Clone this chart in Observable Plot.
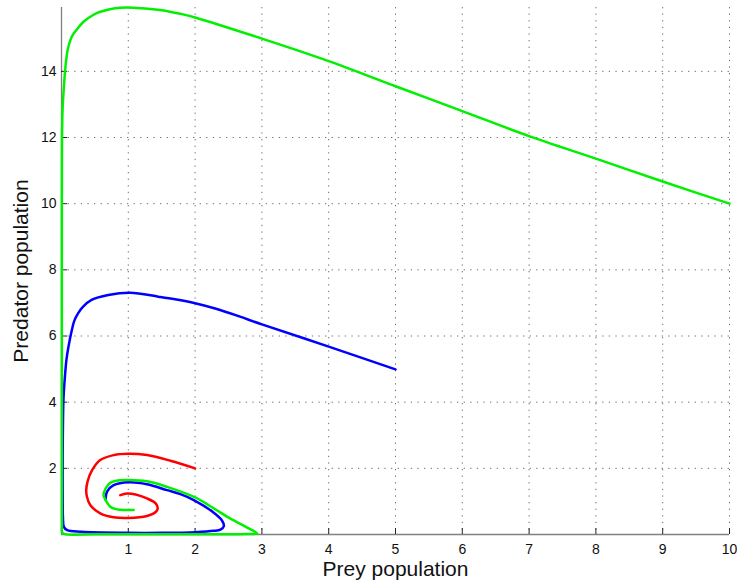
<!DOCTYPE html>
<html><head><meta charset="utf-8">
<script src="https://cdn.jsdelivr.net/npm/d3@7"></script>
<script src="https://cdn.jsdelivr.net/npm/@observablehq/plot@0.6"></script>
<style>body{margin:0;background:#fff} svg{display:block}</style>
</head><body><div id="chart"></div>
<script>
const xTicks = [1, 2, 3, 4, 5, 6, 7, 8, 9, 10];
const yTicks = [2, 4, 6, 8, 10, 12, 14];

// Red trajectory, starting at (2, 2)
const redX = [2.0, 1.63, 1.28, 1.0, 0.78, 0.58, 0.46, 0.39, 0.37, 0.38, 0.43, 0.58, 0.78, 1.0, 1.28, 1.41, 1.44, 1.41, 1.28, 1.11, 0.98, 0.88];
const redY = [2.0, 2.23, 2.40, 2.44, 2.40, 2.25, 1.95, 1.6, 1.34, 1.15, 0.89, 0.64, 0.52, 0.5, 0.56, 0.68, 0.79, 0.94, 1.09, 1.21, 1.24, 1.19];

// Blue trajectory, starting at (5, 5)
const blueX = [5, 4, 3, 2.65, 2.3, 2.0, 1.7, 1.45, 1.03, 0.70, 0.45, 0.32, 0.25, 0.19, 0.155, 0.105, 0.075, 0.055, 0.03, 0.02, 0.017, 0.018, 0.022, 0.035, 0.085, 0.3, 1.0, 1.5, 2.0, 2.28, 2.38, 2.43, 2.40, 2.28, 1.98, 1.78, 1.58, 1.28, 1.01, 0.78, 0.68, 0.66];
const blueY = [4.99, 5.68, 6.35, 6.6, 6.83, 6.99, 7.11, 7.19, 7.31, 7.24, 7.09, 6.88, 6.69, 6.45, 6.18, 5.68, 5.3, 4.87, 4.11, 3.0, 2.0, 1.0, 0.5, 0.23, 0.13, 0.08, 0.05, 0.05, 0.07, 0.11, 0.15, 0.25, 0.43, 0.66, 1.04, 1.22, 1.34, 1.52, 1.58, 1.49, 1.29, 1.06];

// Green trajectory, starting at (10, 10)
const greenX = [10, 9, 8, 7, 6, 5, 4, 3, 2, 1.78, 1.5, 1.2, 0.98, 0.8, 0.58, 0.48, 0.33, 0.235, 0.18, 0.135, 0.09, 0.06, 0.03, 0.015, 0.008, 0.006, 0.005, 0.005, 0.005, 0.005, 0.006, 0.01, 0.05, 0.5, 1.5, 2.5, 2.8, 2.93, 2.78, 2.53, 2.28, 2.0, 1.58, 1.28, 1.0, 0.88, 0.73, 0.66, 0.63, 0.66, 0.73, 0.83, 0.95, 1.08];
const greenY = [10, 10.67, 11.36, 12.04, 12.8, 13.55, 14.31, 14.99, 15.63, 15.74, 15.85, 15.91, 15.93, 15.91, 15.80, 15.71, 15.5, 15.28, 15.14, 14.96, 14.62, 14.15, 13.35, 12.8, 12.0, 11.0, 9.0, 6.0, 3.0, 1.0, 0.3, 0.06, 0.012, 0.006, 0.006, 0.008, 0.012, 0.03, 0.21, 0.48, 0.79, 1.12, 1.44, 1.61, 1.65, 1.64, 1.56, 1.39, 1.19, 1.04, 0.84, 0.76, 0.74, 0.74];

const toRows = (xs, ys) => xs.map((x, i) => ({x, y: ys[i]}));
const red = toRows(redX, redY), blue = toRows(blueX, blueY), green = toRows(greenX, greenY);

const W = 737, H = 584, mL = 61, mR = 8, mT = 7, mB = 50;
const innerW = W - mL - mR, innerH = H - mT - mB;
const tickLen = 6;
const font = "'Liberation Sans', Arial, Helvetica, sans-serif";

const chart = Plot.plot({
  width: W, height: H,
  marginLeft: mL, marginRight: mR, marginTop: mT, marginBottom: mB,
  style: {fontFamily: font, fontSize: "14px", background: "white", color: "#111"},
  x: {domain: [0, 10]},
  y: {domain: [0, 15.93]},
  marks: [
    Plot.gridX(xTicks, {stroke: "#555", strokeOpacity: 0.85, strokeDasharray: "1.3,5.3"}),
    Plot.gridY(yTicks, {stroke: "#555", strokeOpacity: 0.85, strokeDasharray: "1.3,5.3"}),
    Plot.ruleY([0], {stroke: "#808080", strokeWidth: 1.3}),
    Plot.ruleX([0], {stroke: "#808080", strokeWidth: 1.3}),
    Plot.ruleX(xTicks, {x: d => d, insetTop: innerH - tickLen, stroke: "#222"}),
    Plot.ruleY(yTicks, {y: d => d, insetRight: innerW - tickLen, stroke: "#222"}),
    Plot.axisX(xTicks, {tickSize: 0, tickPadding: 10, fontSize: 14, label: null}),
    Plot.axisY(yTicks, {tickSize: 0, tickPadding: 5, fontSize: 14, label: null}),
    Plot.line(red, {x: "x", y: "y", stroke: "#ff0000", strokeWidth: 2.5, curve: "catmull-rom"}),
    Plot.line(blue, {x: "x", y: "y", stroke: "#0000ff", strokeWidth: 2.5, curve: "catmull-rom"}),
    Plot.line(green, {x: "x", y: "y", stroke: "#00f000", strokeWidth: 2.5, curve: "catmull-rom"}),
    Plot.text(["Prey population"], {frameAnchor: "bottom", textAnchor: "middle", lineAnchor: "middle", dy: 35, fontSize: 21, fill: "#111"}),
    Plot.text(["Predator population"], {frameAnchor: "left", textAnchor: "middle", lineAnchor: "middle", dx: -40.5, rotate: -90, fontSize: 21, fill: "#111"})
  ]
});
document.getElementById("chart").append(chart);
</script>
</body></html>
